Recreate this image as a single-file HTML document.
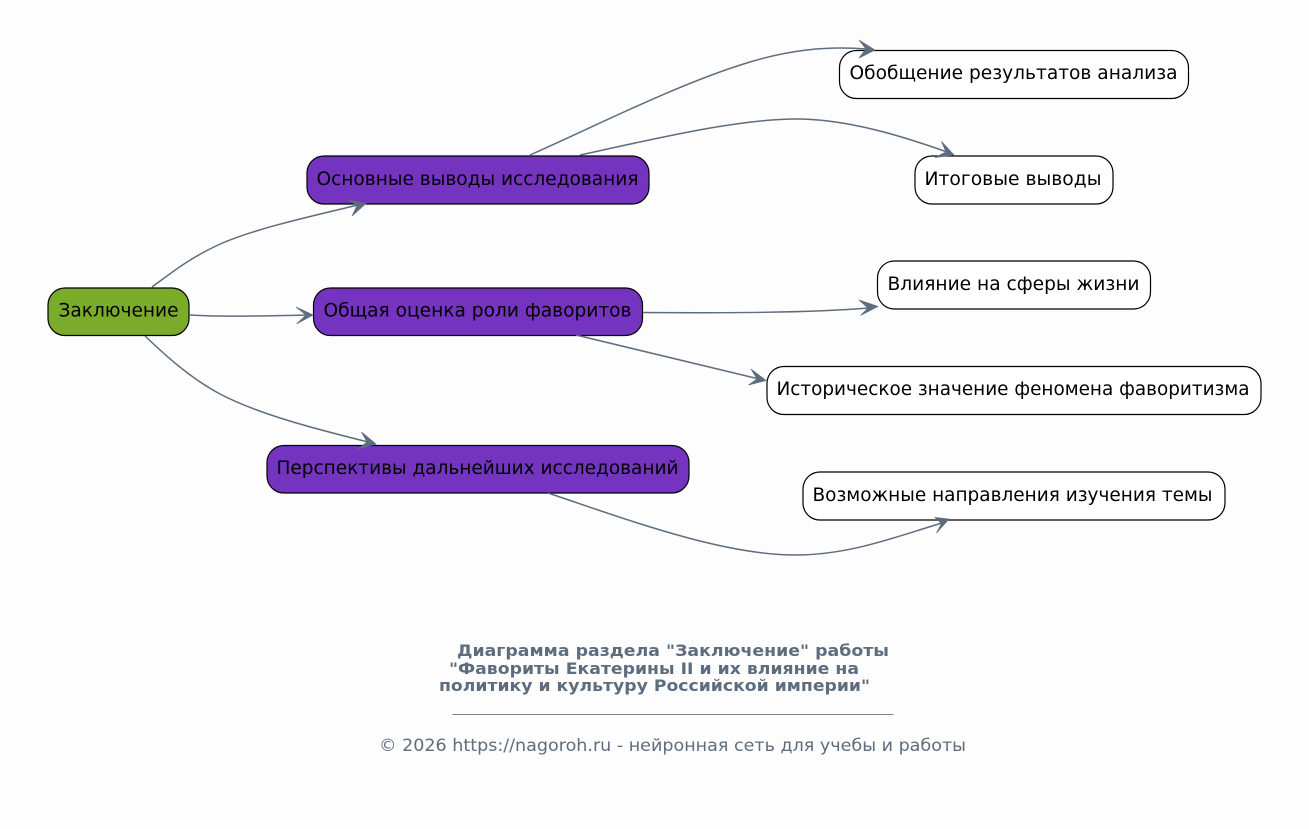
<!DOCTYPE html>
<html><head><meta charset="utf-8"><style>
html,body{margin:0;padding:0;background:#fdfdfd}
svg{display:block}
text{font-family:"DejaVu Sans",sans-serif}
.n{font-size:18.2px;fill:#000;text-anchor:middle}
.e{fill:none;stroke:#5d6d7e;stroke-width:1.5}
.a{fill:#5d6d7e;stroke:#5d6d7e;stroke-width:.7;stroke-linejoin:miter}
.b{stroke:#000;stroke-width:1.2}
.t{font-size:16.2px;font-weight:bold;fill:#5d6d7e}
.f{font-size:16.6px;fill:#5d6d7e}
</style></head><body>
<svg width="1309" height="829" viewBox="0 0 1309 829" xmlns="http://www.w3.org/2000/svg">
<rect width="1309" height="829" fill="#fdfdfd"/>
<rect class="b" x="48" y="288" width="141" height="47.500" rx="17" fill="#7aab2a"/>
<rect class="b" x="307" y="156" width="342" height="48" rx="17" fill="#7534c0"/>
<rect class="b" x="313.500" y="288" width="329" height="47.500" rx="17" fill="#7534c0"/>
<rect class="b" x="267" y="445.500" width="422" height="47.500" rx="17" fill="#7534c0"/>
<rect class="b" x="839.500" y="50.500" width="349" height="48" rx="17" fill="#fff"/>
<rect class="b" x="915" y="156" width="198" height="48" rx="17" fill="#fff"/>
<rect class="b" x="877.500" y="261" width="273" height="48" rx="17" fill="#fff"/>
<rect class="b" x="767" y="366.500" width="494" height="48" rx="17" fill="#fff"/>
<rect class="b" x="803" y="472" width="422" height="48" rx="17" fill="#fff"/>
<path class="e" d="M152 287C170 274 188 259 218 245C253 229 312 216 358 205"/>
<path class="a" d="M366 203.500L348 200L357 205.500L352 216Z"/>
<path class="e" d="M190 315C220 317 270 316 307 315"/>
<path class="a" d="M313 315L296 307L306 315L296.500 324Z"/>
<path class="e" d="M145 336C165 355 190 378 220 394C260 415 320 430 368 442"/>
<path class="a" d="M376 444L361.500 432L367 442L358 449Z"/>
<path class="e" d="M530 155C600 124 680 83 750 62C790 50 825 46 867 49"/>
<path class="a" d="M875 50L859 40L866 49L859 58Z"/>
<path class="e" d="M580 155C650 140 740 118 800 119C850 120 902 136 947 152"/>
<path class="a" d="M954 155L941.500 141.500L946 152L935 157.500Z"/>
<path class="e" d="M643 312.500C720 313 810 313 869 308"/>
<path class="a" d="M878 306.500L859 300L868 308L860.500 315.500Z"/>
<path class="e" d="M576 335L757 378.500"/>
<path class="a" d="M766 380.500L751 369L757 379L748.500 385Z"/>
<path class="e" d="M548 493C620 517 720 555 795 555C850 555 895 537 942 523"/>
<path class="a" d="M949 519L935 517.500L941.500 523.500L936.500 533Z"/>
<text class="n" x="118.500" y="316.500" textLength="120" lengthAdjust="spacingAndGlyphs">Заключение</text>
<text class="n" x="477.500" y="185" textLength="322" lengthAdjust="spacingAndGlyphs">Основные выводы исследования</text>
<text class="n" x="477.500" y="316.500" textLength="308" lengthAdjust="spacingAndGlyphs">Общая оценка роли фаворитов</text>
<text class="n" x="477.500" y="474" textLength="402" lengthAdjust="spacingAndGlyphs">Перспективы дальнейших исследований</text>
<text class="n" x="1013.500" y="79" textLength="328" lengthAdjust="spacingAndGlyphs">Обобщение результатов анализа</text>
<text class="n" x="1013" y="185" textLength="177" lengthAdjust="spacingAndGlyphs">Итоговые выводы</text>
<text class="n" x="1013.500" y="290" textLength="252" lengthAdjust="spacingAndGlyphs">Влияние на сферы жизни</text>
<text class="n" x="1013" y="395" textLength="473" lengthAdjust="spacingAndGlyphs">Историческое значение феномена фаворитизма</text>
<text class="n" x="1012.500" y="501" textLength="400" lengthAdjust="spacingAndGlyphs">Возможные направления изучения темы</text>
<text class="t" x="457" y="656" textLength="432" lengthAdjust="spacingAndGlyphs">Диаграмма раздела "Заключение" работы</text>
<text class="t" x="449" y="674" textLength="410" lengthAdjust="spacingAndGlyphs">"Фавориты Екатерины II и их влияние на</text>
<text class="t" x="439" y="691" textLength="431" lengthAdjust="spacingAndGlyphs">политику и культуру Российской империи"</text>
<rect x="452.500" y="714" width="441" height="1" fill="#5d6d7e" opacity="0.85"/>
<text class="f" x="379" y="751" textLength="587" lengthAdjust="spacingAndGlyphs">© 2026 https://nagoroh.ru - нейронная сеть для учебы и работы</text>
</svg>
</body></html>
